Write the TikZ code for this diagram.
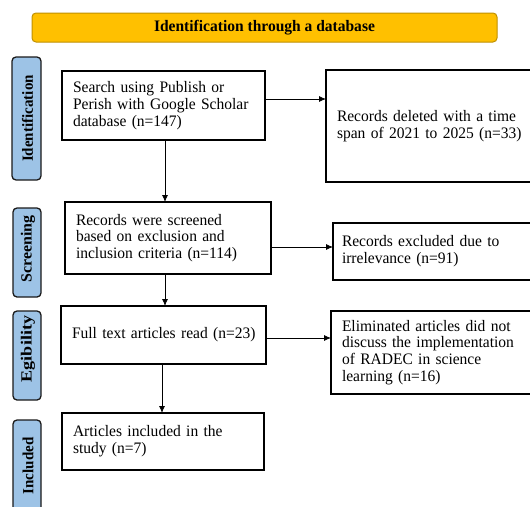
\documentclass[tikz,border=0pt]{standalone}
\usepackage{fontspec}
\setmainfont[FakeStretch=0.97]{Liberation Serif}
\usetikzlibrary{arrows.meta}
\definecolor{bannerfill}{HTML}{FFC000}
\definecolor{bannerline}{HTML}{BF9000}
\definecolor{sidefill}{HTML}{9DC3E6}
\definecolor{sideline}{HTML}{1A1A1A}
\tikzset{
  stagebox/.style={draw=black, line width=1.3pt, fill=white, inner xsep=11pt, inner ysep=0pt, align=left, anchor=north west, outer sep=0pt, font=\fontsize{16}{16.8}\selectfont},
  sidebox/.style={draw=sideline, fill=sidefill, line width=1.3pt, rounded corners=4pt},
  sidelabel/.style={rotate=90, font=\bfseries\fontsize{15.5}{16}\selectfont, inner sep=0pt},
  flow/.style={line width=0.8pt, -{Latex[length=7pt,width=6pt]}}
}
\begin{document}
\begin{tikzpicture}[x=1pt,y=-1pt]
\useasboundingbox (0,0) rectangle (530,506);
\clip (0,0) rectangle (530,506);
% banner
\node[draw=bannerline, fill=bannerfill, line width=1pt, rounded corners=4pt,
      minimum width=465pt, minimum height=29pt, inner sep=0pt,
      font=\bfseries\fontsize{16}{17}\selectfont] (banner) at (264.5,27.5) {Identification through a database};
% side boxes
\begin{scope}
  \draw[sidebox] (12,57) rectangle (41,180);
  \clip[rounded corners=4pt] (12,57) rectangle (41,180);
  \node[sidelabel] (lid) at (27.5,118.5) {Identification};
\end{scope}
\begin{scope}
  \draw[sidebox] (13,208) rectangle (41,297);
  \clip[rounded corners=4pt] (13,208) rectangle (41,297);
  \node[sidelabel] (lsc) at (28,249) {\scalebox{1.06}[1]{Screening}};
\end{scope}
\begin{scope}
  \draw[sidebox] (13,311) rectangle (41,400);
  \clip[rounded corners=4pt] (13,311) rectangle (41,400);
  \node[sidelabel] (lel) at (28,349) {\scalebox{1.2}[1]{Egibility}};
\end{scope}
\begin{scope}
  \draw[sidebox] (13,420) rectangle (41,514);
  \clip[rounded corners=4pt] (13,420) rectangle (41,514);
  \node[sidelabel] (lin) at (28,466) {Included};
\end{scope}
% boxes
\node[stagebox, text width=181pt, minimum height=69pt] (b1) at (62,71)
  {Search using Publish or\\Perish with Google Scholar\\database (n=147)};
\node[stagebox, text width=192pt, minimum height=112pt] (b2) at (326,70)
  {Records deleted with a time\\span of 2021 to 2025 (n=33)};
\node[stagebox, text width=184pt, minimum height=72pt] (b3) at (65,202)
  {Records were screened\\based on exclusion and\\inclusion criteria (n=114)};
\node[stagebox, text width=189pt, minimum height=57pt, inner xsep=9pt] (b4) at (333,223)
  {Records excluded due to\\irrelevance (n=91)};
\node[stagebox, text width=183pt, minimum height=58pt] (b5) at (61,306)
  {\mbox{Full text articles read (n=23)}};
\node[stagebox, text width=187pt, minimum height=83pt] (b6) at (331,311)
  {Eliminated articles did not\\discuss the implementation\\of RADEC in science\\learning (n=16)};
\node[stagebox, text width=180pt, minimum height=57pt] (b7) at (62,413)
  {Articles included in the\\study (n=7)};
% connectors
\draw[flow] (b1.east |- 0,99) -- (b2.west |- 0,99);
\draw[flow] (b1.south -| 165,0) -- (b3.north -| 165,0);
\draw[flow] (b3.east |- 0,247) -- (b4.west |- 0,247);
\draw[flow] (b3.south -| 165,0) -- (b5.north -| 165,0);
\draw[flow] (b5.east |- 0,338) -- (b6.west |- 0,338);
\draw[flow] (b5.south -| 162,0) -- (b7.north -| 162,0);
\end{tikzpicture}
\end{document}
